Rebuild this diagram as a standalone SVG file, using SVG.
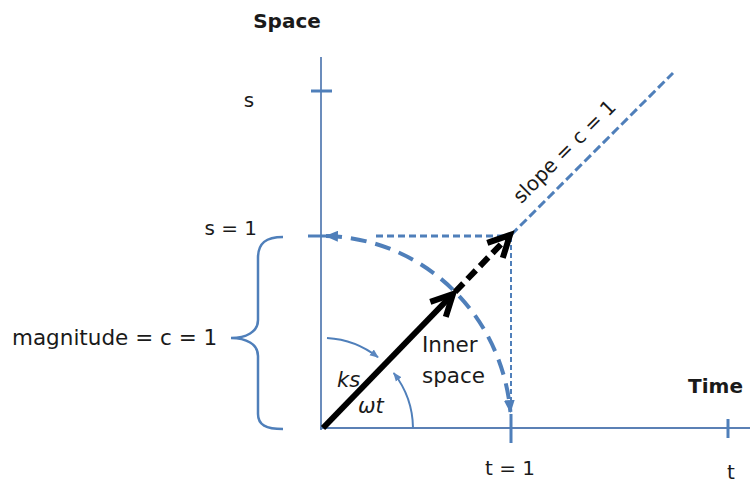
<svg xmlns="http://www.w3.org/2000/svg" width="750" height="483" viewBox="0 0 750 483">
<style>
text{font-family:"DejaVu Sans","Liberation Sans",sans-serif;fill:#1a1a1a}
.lbl{font-size:20px}
.big{font-size:21.5px}
.bold{font-size:20px;font-weight:bold}
.ital{font-size:21px;font-style:italic}
.axis{stroke:#5b80b5;stroke-width:1.8;fill:none}
.tick{stroke:#4f7fba;stroke-width:3;fill:none}
.blue{stroke:#4f7fba;fill:none}
.blk{stroke:#000;fill:none;stroke-width:6}
</style>
<defs>
<marker id="bh" viewBox="0 0 12 10" refX="11" refY="5" markerWidth="13" markerHeight="11" markerUnits="userSpaceOnUse" orient="auto-start-reverse">
<path d="M0,0 L12,5 L0,10 Z" fill="#4f7fba"/>
</marker>
<marker id="sh" viewBox="0 0 10 8" refX="9" refY="4" markerWidth="9" markerHeight="8" markerUnits="userSpaceOnUse" orient="auto">
<path d="M0,0 L10,4 L0,8 Z" fill="#5b87c0"/>
</marker>
</defs>
<g id="axes">
<line class="axis" x1="321" y1="57" x2="321" y2="430"/>
<line class="axis" x1="320" y1="428" x2="750" y2="428"/>
<line class="tick" x1="311" y1="91" x2="332" y2="91"/>
<line class="tick" x1="308" y1="236" x2="334" y2="236"/>
<line class="tick" x1="511" y1="414" x2="511" y2="443"/>
<line class="tick" x1="728" y1="419" x2="728" y2="438"/>
</g>
<g id="connectors">
<path class="blue" d="M376,236 L511,236" stroke-width="3" stroke-dasharray="7 4"/>
<path class="blue" d="M511,237 L511,412" stroke-width="2" stroke-dasharray="5 3"/>
<path class="blue" d="M511,235 L673,73" stroke-width="3" stroke-dasharray="9 4"/>
<path class="blue" d="M326,236 A189,193 0 0 1 510.4,412" stroke-width="4" stroke-dasharray="16 9" marker-start="url(#bh)" marker-end="url(#bh)"/>
<path class="blue" d="M327,338 A91,91 0 0 1 378,357.3" stroke-width="2" marker-end="url(#sh)"/>
<path class="blue" d="M413,428 A91,91 0 0 0 393.7,373" stroke-width="2" marker-end="url(#sh)"/>
<path class="blue" d="M283,237 C266,237 258,243 258,258 L258,320 C258,332 246,338 231,338 C246,338 258,344 258,356 L258,414 C258,425 266,429 283,429" stroke-width="2.5"/>
<line class="blk" x1="323" y1="428" x2="451" y2="296"/>
<line class="blk" x1="455" y1="292" x2="508" y2="237" stroke-dasharray="12 6"/>
<polyline class="blk" points="430.3,301.9 453,294 445.8,316.9"/>
<polyline class="blk" points="487.3,242.9 510,235 502.8,257.9"/>
</g>
<g id="labels">
<text class="bold" x="287" y="28" text-anchor="middle">Space</text>
<text class="lbl" x="249" y="107" text-anchor="middle">s</text>
<text class="lbl" x="257" y="235" text-anchor="end">s = 1</text>
<text class="big" x="12" y="345">magnitude = c = 1</text>
<text class="big" x="422" y="352">Inner</text>
<text class="big" x="422" y="383">space</text>
<text class="ital" x="337" y="387">ks</text>
<text class="ital" x="358" y="413">ωt</text>
<text class="bold" x="743" y="393" text-anchor="end">Time</text>
<text class="lbl" x="510" y="475" text-anchor="middle">t = 1</text>
<text class="lbl" x="731" y="479" text-anchor="middle">t</text>
<text class="lbl" x="565" y="158" text-anchor="middle" transform="rotate(-45 565 152)">slope = c = 1</text>
</g>
</svg>
